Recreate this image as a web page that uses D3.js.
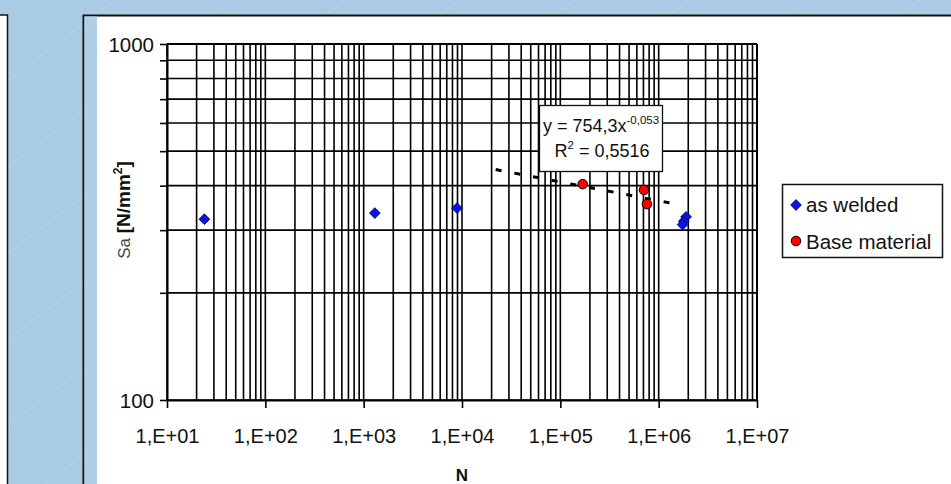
<!DOCTYPE html>
<html>
<head>
<meta charset="utf-8">
<script src="https://cdn.jsdelivr.net/npm/d3@7"></script>
<style>
  html, body { margin: 0; padding: 0; background: #a9cbe3; }
  svg { display: block; }
  text { font-family: "Liberation Sans", Arial, sans-serif; }
</style>
</head>
<body>
<script>
// ---- data ----
const weldedN = [24, 1300, 8900, 1.9e6, 1.8e6, 1.75e6];
const weldedS = [322, 335, 346, 327, 318, 311];
const baseN = [1.69e5, 7.1e5, 7.6e5];
const baseS = [404, 389, 355];
const trendN = [2.2e4, 1.5e6];
const trendS = [444, 355];
const xDecades = [1e1, 1e2, 1e3, 1e4, 1e5, 1e6, 1e7];
const xTickLabels = ["1,E+01", "1,E+02", "1,E+03", "1,E+04", "1,E+05", "1,E+06", "1,E+07"];
const yTickLabelValues = [100, 1000];
const seriesNames = ["as welded", "Base material"];
const equationText = ["y = 754,3x", "-0,053"];
const r2Text = "0,5516";

const W = 951, H = 484;
const svg = d3.select("body").append("svg").attr("width", W).attr("height", H);

// background
svg.append("rect").attr("width", W).attr("height", H).attr("fill", "#a9cbe3");
const streaks = svg.append("g").attr("stroke", "#ffffff").attr("stroke-opacity", 0.18).attr("stroke-width", 1);
for (let c = -760; c < 1000; c += 115) {
  streaks.append("line").attr("x1", c).attr("y1", H).attr("x2", c + 645).attr("y2", 0);
}

// left panel edge
svg.append("rect").attr("x", -20).attr("y", 15).attr("width", 27.5).attr("height", 600)
  .attr("fill", "#ffffff").attr("stroke", "#111").attr("stroke-width", 1.5);

// main panel
svg.append("rect").attr("x", 83.5).attr("y", 15.5).attr("width", 1000).attr("height", 600)
  .attr("fill", "#ffffff").attr("stroke", "#111").attr("stroke-width", 2);
svg.append("rect").attr("x", 84.5).attr("y", 16.5).attr("width", 12.5).attr("height", 600)
  .attr("fill", "#aecfe6");

// scales
const x = d3.scaleLog().domain([10, 1e7]).range([167, 757]);
const y = d3.scaleLog().domain([100, 1000]).range([400, 44]);

// grid
const grid = svg.append("g").attr("stroke", "#000").attr("stroke-width", 1.6);
grid.selectAll("line.v").data(x.ticks()).join("line")
  .attr("x1", d => x(d)).attr("x2", d => x(d))
  .attr("y1", y(1000)).attr("y2", y(100));
grid.selectAll("line.h").data(y.ticks()).join("line")
  .attr("x1", x(10)).attr("x2", x(1e7))
  .attr("y1", d => y(d)).attr("y2", d => y(d));

// axes
const xAxis = d3.axisBottom(x).tickValues(xDecades).tickSize(8).tickSizeOuter(0)
  .tickFormat((d, i) => xTickLabels[i]);
const gx = svg.append("g").attr("transform", `translate(0,${y(100)})`).call(xAxis);
gx.select(".domain").attr("stroke", "#000").attr("stroke-width", 2);
gx.selectAll(".tick line").attr("stroke", "#000").attr("stroke-width", 1.6);
gx.selectAll(".tick text").attr("font-size", 20).attr("fill", "#111")
  .attr("font-family", "Liberation Sans, Arial, sans-serif").attr("y", 0).attr("dy", 0)
  .attr("transform", "translate(0,43)");

const yAxis = d3.axisLeft(y).tickValues(y.ticks()).tickSize(7).tickSizeOuter(0)
  .tickFormat(d => yTickLabelValues.includes(d) ? String(d) : "");
const gy = svg.append("g").attr("transform", `translate(${x(10)},0)`).call(yAxis);
gy.select(".domain").attr("stroke", "#000").attr("stroke-width", 2);
gy.selectAll(".tick line").attr("stroke", "#000").attr("stroke-width", 1.6);
gy.selectAll(".tick text").attr("font-size", 20.5).attr("fill", "#111")
  .attr("font-family", "Liberation Sans, Arial, sans-serif").attr("x", -13).attr("dy", "0.35em");

// right & top border of plot
svg.append("line").attr("x1", x(1e7)).attr("x2", x(1e7)).attr("y1", y(1000)).attr("y2", y(100))
  .attr("stroke", "#000").attr("stroke-width", 2);
svg.append("line").attr("x1", x(10)).attr("x2", x(1e7)).attr("y1", y(1000)).attr("y2", y(1000))
  .attr("stroke", "#000").attr("stroke-width", 2);

// trendline
const tline = d3.line().x(d => x(d[0])).y(d => y(d[1]));
svg.append("path").datum(trendN.map((n, i) => [n, trendS[i]]))
  .attr("d", tline).attr("fill", "none").attr("stroke", "#000")
  .attr("stroke-width", 3).attr("stroke-dasharray", "6,13");

// as welded diamonds (square rotated 45°)
const diamond = d3.symbol().type(d3.symbolSquare).size(58);
svg.append("g").selectAll("path").data(weldedN.map((n, i) => [n, weldedS[i]])).join("path")
  .attr("d", diamond)
  .attr("transform", d => `translate(${x(d[0])},${y(d[1])}) rotate(45)`)
  .attr("fill", "#0a14e0").attr("stroke", "#00006e").attr("stroke-width", 0.8);

// base material circles
svg.append("g").selectAll("circle").data(baseN.map((n, i) => [n, baseS[i]])).join("circle")
  .attr("cx", d => x(d[0])).attr("cy", d => y(d[1])).attr("r", 4.8)
  .attr("fill", "#ff0000").attr("stroke", "#000").attr("stroke-width", 1);

// equation box
svg.append("rect").attr("x", 539.5).attr("y", 105.5).attr("width", 123).attr("height", 66)
  .attr("fill", "#fff").attr("stroke", "#111").attr("stroke-width", 1.3);
const eq1 = svg.append("text").attr("x", 601).attr("y", 132).attr("text-anchor", "middle")
  .attr("font-size", 18).attr("fill", "#111");
eq1.append("tspan").text(equationText[0]);
eq1.append("tspan").attr("dy", -8).attr("font-size", 11.5).text(equationText[1]);
const eq2 = svg.append("text").attr("x", 602).attr("y", 157).attr("text-anchor", "middle")
  .attr("font-size", 18).attr("fill", "#111");
eq2.append("tspan").text("R");
eq2.append("tspan").attr("dy", -8).attr("font-size", 11.5).text("2");
eq2.append("tspan").attr("dy", 8).text(" = " + r2Text);

// legend
svg.append("rect").attr("x", 782.5).attr("y", 184.5).attr("width", 160).attr("height", 73)
  .attr("fill", "#fff").attr("stroke", "#111").attr("stroke-width", 1.5);
svg.append("path").attr("d", diamond).attr("transform", "translate(796,205) rotate(45)")
  .attr("fill", "#0a14e0").attr("stroke", "#00006e").attr("stroke-width", 0.8);
svg.append("circle").attr("cx", 796).attr("cy", 241).attr("r", 4.8)
  .attr("fill", "#ff0000").attr("stroke", "#000").attr("stroke-width", 1);
svg.append("text").attr("x", 806).attr("y", 212).attr("font-size", 20.5).attr("fill", "#111").text(seriesNames[0]);
svg.append("text").attr("x", 806).attr("y", 249).attr("font-size", 20.5).attr("fill", "#111").text(seriesNames[1]);

// axis titles
svg.append("text").attr("x", 462).attr("y", 481).attr("text-anchor", "middle")
  .attr("font-size", 17).attr("font-weight", "bold").attr("fill", "#111").text("N");
const yt = svg.append("text").attr("transform", "translate(130,210) rotate(-90)")
  .attr("text-anchor", "middle").attr("fill", "#111");
yt.append("tspan").attr("font-size", 17).attr("fill", "#444").text("Sa ");
yt.append("tspan").attr("font-size", 19).attr("font-weight", "bold").text("[N/mm");
yt.append("tspan").attr("font-size", 12).attr("font-weight", "bold").attr("dy", -8).text("2");
yt.append("tspan").attr("font-size", 19).attr("font-weight", "bold").attr("dy", 8).text("]");
</script>
</body>
</html>
